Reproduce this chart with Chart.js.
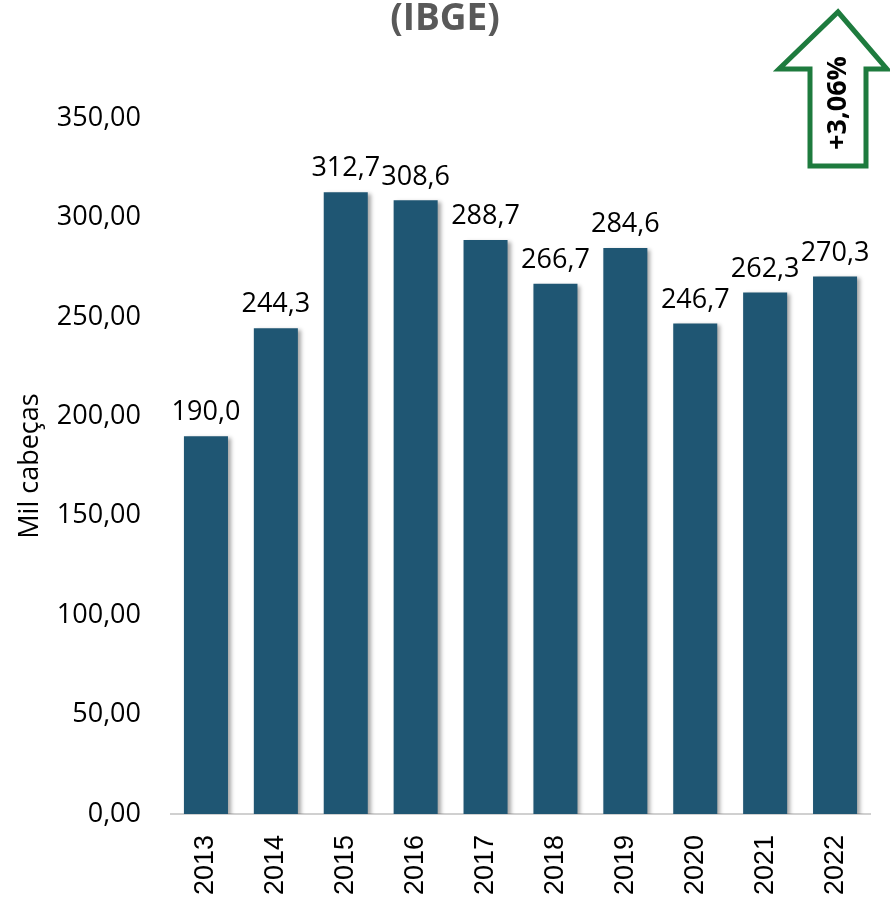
<!DOCTYPE html>
<html lang="pt">
<head>
  <meta charset="UTF-8">
  <title>Mil cabeças (IBGE)</title>
  <script src="https://cdn.jsdelivr.net/npm/chart.js"></script>
  <style>
    html, body { margin: 0; padding: 0; background: #fff; }
    .wrap { width: 890px; height: 901px; }
  </style>
</head>
<body>
  <div class="wrap"><canvas id="chart" width="890" height="901"></canvas></div>
  <script>
    const anos = ['2013', '2014', '2015', '2016', '2017', '2018', '2019', '2020', '2021', '2022'];
    const cabecas = [190.0, 244.3, 312.7, 308.6, 288.7, 266.7, 284.6, 246.7, 262.3, 270.3];
    const variacao = '+3,06%';

    const fmt1 = v => v.toFixed(1).replace('.', ',');
    const fmt2 = v => v.toFixed(2).replace('.', ',');

    // sombra nas barras
    const sombra = {
      id: 'sombra',
      beforeDatasetsDraw(chart) {
        const c = chart.ctx;
        c.save();
        c.shadowColor = 'rgba(0,0,0,0.35)';
        c.shadowBlur = 4;
        c.shadowOffsetX = 3;
        c.shadowOffsetY = 2;
      },
      afterDatasetsDraw(chart) {
        chart.ctx.restore();
      }
    };

    // rótulos dos valores, título e seta
    const extras = {
      id: 'extras',
      afterDraw(chart) {
        const c = chart.ctx;
        const meta = chart.getDatasetMeta(0);
        c.save();
        c.fillStyle = '#000';
        c.font = '27px "Open Sans", sans-serif';
        c.textAlign = 'center';
        c.textBaseline = 'bottom';
        meta.data.forEach((bar, i) => {
          c.fillText(fmt1(cabecas[i]), bar.x, bar.y - 10);
        });

        // título cortado no topo
        c.fillStyle = '#595959';
        c.font = 'bold 37px "Open Sans", sans-serif';
        c.textBaseline = 'alphabetic';
        c.fillText('(IBGE)', 445, 30);

        // seta verde
        c.strokeStyle = '#1E7B3E';
        c.lineWidth = 5;
        c.lineJoin = 'miter';
        c.beginPath();
        c.moveTo(838, 12);
        c.lineTo(887, 69);
        c.lineTo(866, 69);
        c.lineTo(866, 166);
        c.lineTo(810, 166);
        c.lineTo(810, 69);
        c.lineTo(779, 69);
        c.closePath();
        c.stroke();

        c.translate(838, 103);
        c.rotate(-Math.PI / 2);
        c.fillStyle = '#000';
        c.font = 'bold 27px "Open Sans", sans-serif';
        c.textAlign = 'center';
        c.textBaseline = 'middle';
        c.fillText(variacao, 0, 0);
        c.restore();
      }
    };

    new Chart(document.getElementById('chart'), {
      type: 'bar',
      data: {
        labels: anos,
        datasets: [{
          data: cabecas,
          backgroundColor: '#1F5673',
          barPercentage: 0.63,
          categoryPercentage: 1
        }]
      },
      options: {
        responsive: false,
        animation: false,
        layout: { padding: { top: 118, right: 20, left: 0, bottom: 0 } },
        plugins: { legend: { display: false }, tooltip: { enabled: false } },
        scales: {
          x: {
            grid: { display: false, drawTicks: false },
            border: { color: '#d0d0d0', width: 2 },
            ticks: {
              color: '#000',
              font: { size: 27, family: '"Liberation Sans", Arial, sans-serif' },
              minRotation: 90,
              maxRotation: 90,
              padding: 21
            },
            afterFit(scale) { scale.height = 87; }
          },
          y: {
            min: 0,
            max: 350,
            grid: { display: false, drawTicks: false },
            border: { display: false },
            ticks: {
              stepSize: 50,
              color: '#000',
              padding: 30,
              font: { size: 27, family: '"Open Sans", sans-serif' },
              callback: v => fmt2(v)
            },
            title: {
              display: true,
              text: 'Mil cabeças',
              color: '#000',
              font: { size: 27, family: '"Open Sans", sans-serif' },
              padding: { top: 14, bottom: 0 }
            },
            afterFit(scale) { scale.width = 171; }
          }
        }
      },
      plugins: [sombra, extras]
    });
  </script>
</body>
</html>
